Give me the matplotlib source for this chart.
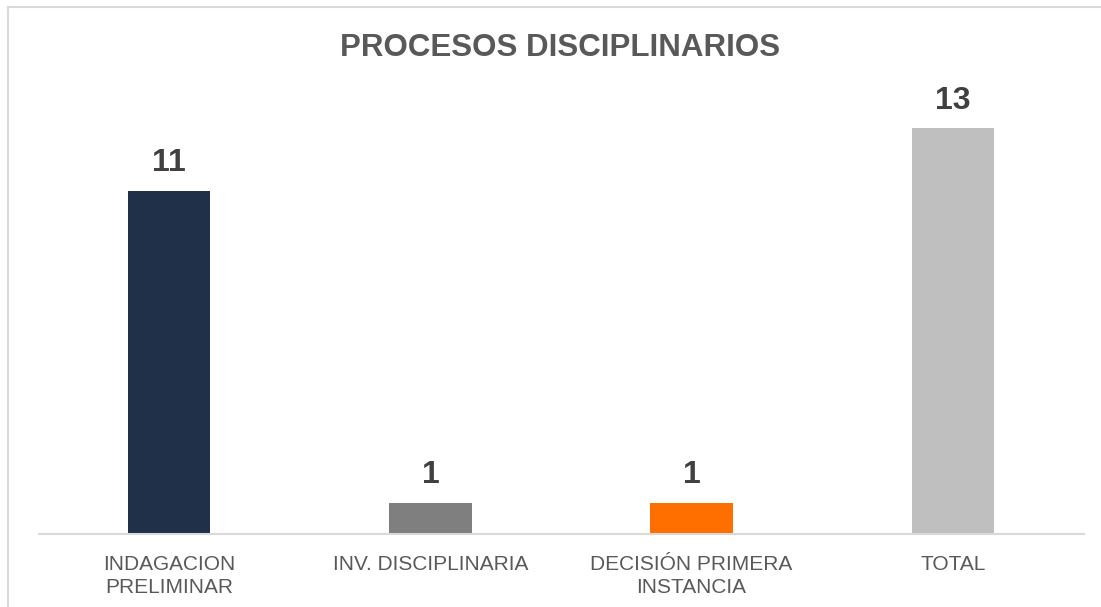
import matplotlib.pyplot as plt
from matplotlib.lines import Line2D

# Data
categories = ['INDAGACION\nPRELIMINAR', 'INV. DISCIPLINARIA', 'DECISIÓN PRIMERA\nINSTANCIA', 'TOTAL']
values = [11, 1, 1, 13]
colors = ['#203048', '#7F7F7F', '#FF6F00', '#BFBFBF']

plt.rcParams['font.family'] = ['Liberation Sans', 'DejaVu Sans']

W, H = 1101, 607
fig = plt.figure(figsize=(W / 100, H / 100), dpi=100)

# outer chart border (only top and left are visible in the crop)
fig.lines.append(Line2D([8 / W, 8 / W], [0, 1 - 7 / H], transform=fig.transFigure,
                        color='#D9D9D9', linewidth=1.5))
fig.lines.append(Line2D([8 / W, 1], [1 - 7 / H, 1 - 7 / H], transform=fig.transFigure,
                        color='#D9D9D9', linewidth=1.5))

ymax = 14
unit = 31.2
ax = fig.add_axes([38.5 / W, 73 / H, 1045 / W, ymax * unit / H])
x = range(len(categories))
bars = ax.bar(x, values, width=0.315, color=colors)
ax.set_xlim(-0.5, len(categories) - 0.5)
ax.set_ylim(0, ymax)

for b, v in zip(bars, values):
    ax.text(b.get_x() + b.get_width() / 2, v + 0.4, str(v), ha='center', va='bottom',
            fontsize=23, fontweight='bold', color='#404040')

ax.set_xticks(list(x))
ax.set_xticklabels(categories, fontsize=15, color='#595959', linespacing=1.3)
ax.tick_params(axis='x', length=0, pad=15)
ax.set_yticks([])
for s in ['top', 'right', 'left']:
    ax.spines[s].set_visible(False)
ax.spines['bottom'].set_color('#D9D9D9')
ax.spines['bottom'].set_linewidth(1.5)

fig.text(560 / W, 1 - 48 / H, 'PROCESOS DISCIPLINARIOS', ha='center', va='center',
         fontsize=22.5, fontweight='bold', color='#595959')

fig.savefig('out.png', dpi=100)
